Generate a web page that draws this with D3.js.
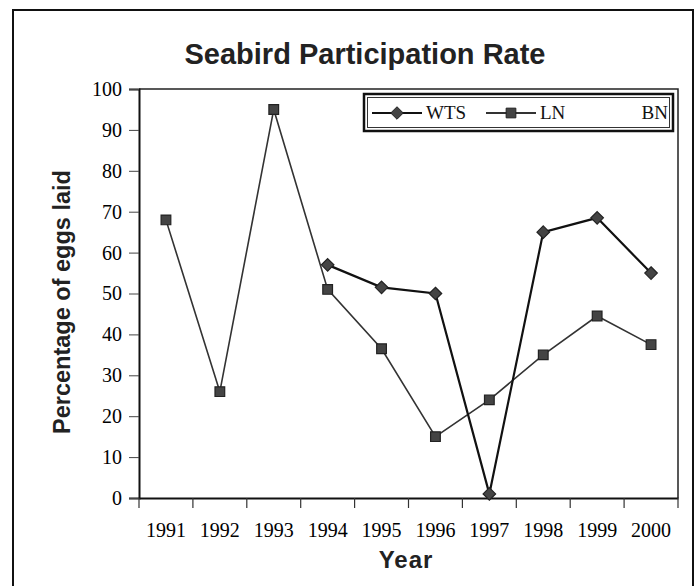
<!DOCTYPE html>
<html>
<head>
<meta charset="UTF-8">
<title>Seabird Participation Rate</title>
<style>
  body { margin: 0; background: #fff; }
  svg { display: block; }
  .tick text { font-family: "Liberation Serif", "DejaVu Serif", serif; font-size: 20px; fill: #000; }
</style>
</head>
<body>
<div id="chart"></div>
<script src="https://cdn.jsdelivr.net/npm/d3@7"></script>
<script>
const years = [1991, 1992, 1993, 1994, 1995, 1996, 1997, 1998, 1999, 2000];
const wts = [null, null, null, 57, 51.5, 50, 1, 65, 68.5, 55];
const ln = [68, 26, 95, 51, 36.5, 15, 24, 35, 44.5, 37.5];
const yTicks = [0, 10, 20, 30, 40, 50, 60, 70, 80, 90, 100];
const legendNames = ["WTS", "LN", "BN"];

const W = 696, H = 586;
const plot = {left: 139, top: 89, right: 678, bottom: 498};

const svg = d3.select('#chart').append('svg')
  .attr('width', W)
  .attr('height', H);

// outer frame of the scanned figure
svg.append('rect')
  .attr('x', 13).attr('y', 10)
  .attr('width', 680).attr('height', 600)
  .attr('fill', 'none')
  .attr('stroke', '#111')
  .attr('stroke-width', 2);

const x = d3.scaleBand().domain(years).range([plot.left, plot.right]);
const y = d3.scaleLinear().domain([0, 100]).range([plot.bottom, plot.top]);

// title
svg.append('text')
  .attr('x', 365).attr('y', 64)
  .attr('text-anchor', 'middle')
  .style('font-family', '"Liberation Sans", Arial, sans-serif')
  .style('font-weight', 'bold')
  .style('font-size', '29px')
  .attr('fill', '#222')
  .text('Seabird Participation Rate');

// plot box (top and right sides)
svg.append('path')
  .attr('d', `M${plot.left},${plot.top}H${plot.right}V${plot.bottom}`)
  .attr('fill', 'none')
  .attr('stroke', '#222')
  .attr('stroke-width', 1.5);

// y axis
const yAxis = svg.append('g')
  .attr('transform', `translate(${plot.left},0)`)
  .call(d3.axisLeft(y).tickValues(yTicks).tickSize(10).tickPadding(7));
yAxis.select('.domain').attr('stroke', '#111').attr('stroke-width', 2);
yAxis.selectAll('.tick line').attr('stroke', '#444');

// x axis: labels at band centres, ticks at band edges
const xAxis = svg.append('g')
  .attr('transform', `translate(0,${plot.bottom})`)
  .call(d3.axisBottom(x).tickSize(0).tickPadding(25));
xAxis.select('.domain').attr('stroke', '#111').attr('stroke-width', 2);

const edges = years.map(d => x(d)).concat([x(years[years.length - 1]) + x.bandwidth()]);
svg.append('g').selectAll('line')
  .data(edges)
  .enter().append('line')
    .attr('x1', d => d).attr('x2', d => d)
    .attr('y1', plot.bottom).attr('y2', plot.bottom + 10)
    .attr('stroke', '#333')
    .attr('stroke-width', 1.2);

// axis titles
svg.append('text')
  .attr('x', 406).attr('y', 568)
  .attr('text-anchor', 'middle')
  .style('font-family', '"Liberation Sans", Arial, sans-serif')
  .style('font-weight', 'bold')
  .style('font-size', '24px')
  .style('letter-spacing', '1px')
  .attr('fill', '#222')
  .text('Year');

svg.append('text')
  .attr('transform', 'translate(70,302) rotate(-90)')
  .attr('text-anchor', 'middle')
  .style('font-family', '"Liberation Sans", Arial, sans-serif')
  .style('font-weight', 'bold')
  .style('font-size', '23.5px')
  .attr('fill', '#222')
  .text('Percentage of eggs laid');

// series
const cx = i => x(years[i]) + x.bandwidth() / 2;
const line = d3.line()
  .defined(d => d != null)
  .x((d, i) => cx(i))
  .y(d => y(d));

svg.append('path')
  .datum(ln)
  .attr('d', line)
  .attr('fill', 'none')
  .attr('stroke', '#333')
  .attr('stroke-width', 1.6);

svg.append('path')
  .datum(wts)
  .attr('d', line)
  .attr('fill', 'none')
  .attr('stroke', '#111')
  .attr('stroke-width', 2.2);

const diamond = d3.symbol().type(d3.symbolDiamond2).size(100);
const square = d3.symbol().type(d3.symbolSquare2).size(120);

svg.append('g').selectAll('path')
  .data(ln.map((v, i) => ({v, i})).filter(d => d.v != null))
  .enter().append('path')
    .attr('d', square)
    .attr('transform', d => `translate(${cx(d.i)},${y(d.v)})`)
    .attr('fill', '#444')
    .attr('stroke', '#222')
    .attr('stroke-width', 1.2);

svg.append('g').selectAll('path')
  .data(wts.map((v, i) => ({v, i})).filter(d => d.v != null))
  .enter().append('path')
    .attr('d', diamond)
    .attr('transform', d => `translate(${cx(d.i)},${y(d.v)})`)
    .attr('fill', '#444')
    .attr('stroke', '#222')
    .attr('stroke-width', 1.2);

// legend
const lg = svg.append('g');
lg.append('rect')
  .attr('x', 364).attr('y', 94).attr('width', 309).attr('height', 37)
  .attr('fill', '#fff').attr('stroke', '#111').attr('stroke-width', 2.5);
lg.append('rect')
  .attr('x', 367.5).attr('y', 97.5).attr('width', 302).attr('height', 30)
  .attr('fill', 'none').attr('stroke', '#333').attr('stroke-width', 1);

const legendItems = [
  {name: legendNames[0], x0: 372, symbol: diamond, stroke: '#111'},
  {name: legendNames[1], x0: 486, symbol: square, stroke: '#333'},
];
legendItems.forEach(it => {
  lg.append('line')
    .attr('x1', it.x0).attr('x2', it.x0 + 50)
    .attr('y1', 113).attr('y2', 113)
    .attr('stroke', it.stroke).attr('stroke-width', 1.8);
  lg.append('path')
    .attr('d', it.symbol)
    .attr('transform', `translate(${it.x0 + 25},113)`)
    .attr('fill', '#444').attr('stroke', '#222');
  lg.append('text')
    .attr('x', it.x0 + 54).attr('y', 119)
    .style('font-family', '"Liberation Serif", serif')
    .style('font-size', '19px')
    .attr('fill', '#111')
    .text(it.name);
});
lg.append('text')
  .attr('x', 668).attr('y', 119)
  .attr('text-anchor', 'end')
  .style('font-family', '"Liberation Serif", serif')
  .style('font-size', '19px')
  .attr('fill', '#111')
  .text(legendNames[2]);
</script>
</body>
</html>
